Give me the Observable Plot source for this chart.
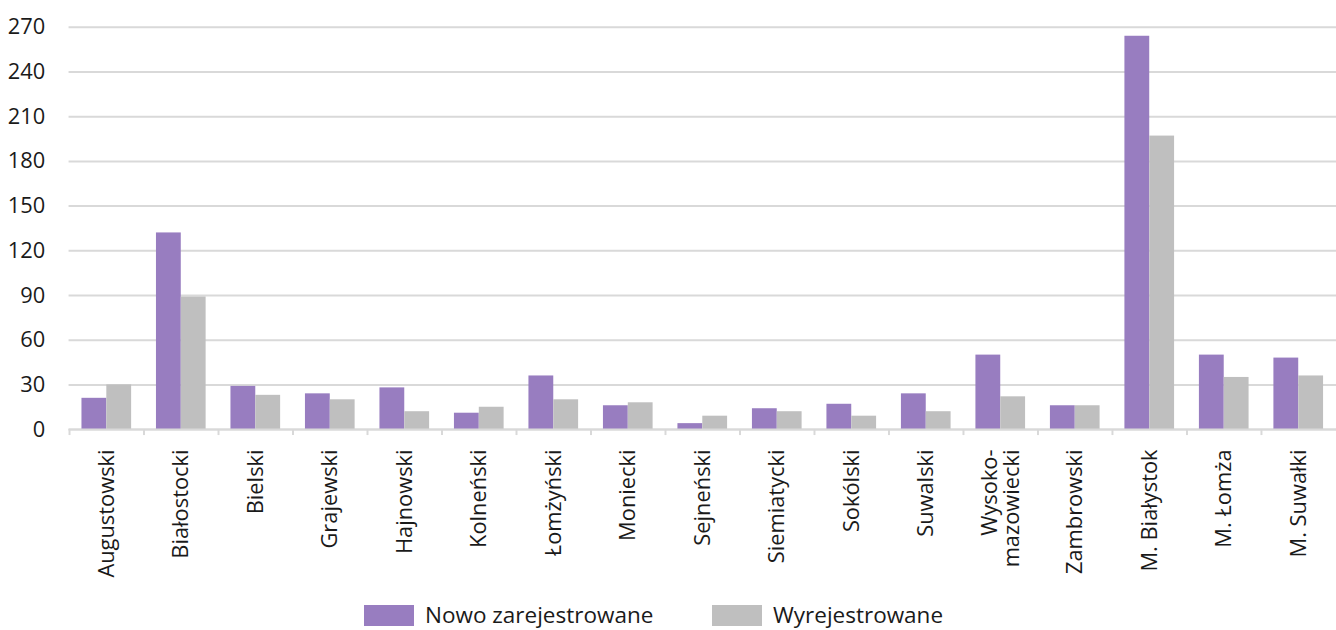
<!DOCTYPE html>
<html>
<head>
<meta charset="utf-8">
<script src="https://cdn.jsdelivr.net/npm/d3@7"></script>
<script src="https://cdn.jsdelivr.net/npm/@observablehq/plot@0.6"></script>
<style>
  html, body { margin: 0; padding: 0; background: #fff; overflow: hidden; }
  #wrap { position: relative; width: 1336px; height: 630px; overflow: hidden; font-family: "Open Sans", sans-serif; }
  #chart svg { display: block; }
  #legend { position: absolute; left: 0; top: 0; width: 1336px; font-size: 22.5px; color: #1a1a1a; }
  .item { position: absolute; top: 603px; display: flex; align-items: center; height: 24px; }
  .sw { width: 50px; height: 21px; display: inline-block; }
  .lbl { margin-left: 11px; line-height: 24px; }
</style>
</head>
<body>
<div id="wrap"><div id="chart"></div><div id="legend"></div></div>
<script>
const categories = ["Augustowski", "Białostocki", "Bielski", "Grajewski", "Hajnowski", "Kolneński", "Łomżyński", "Moniecki", "Sejneński", "Siemiatycki", "Sokólski", "Suwalski", "Wysoko-\nmazowiecki", "Zambrowski", "M. Białystok", "M. Łomża", "M. Suwałki"];
const nowoZarejestrowane = [21, 132, 29, 24, 28, 11, 36, 16, 4, 14, 17, 24, 50, 16, 264, 50, 48];
const wyrejestrowane = [30, 89, 23, 20, 12, 15, 20, 18, 9, 12, 9, 12, 22, 16, 197, 35, 36];
const seriesNames = ["Nowo zarejestrowane", "Wyrejestrowane"];
const seriesColors = ["#987DC0", "#BFBFBF"];
const yTicks = [0, 30, 60, 90, 120, 150, 180, 210, 240, 270];

const rowsA = categories.map((c, i) => ({cat: c, series: seriesNames[0], value: nowoZarejestrowane[i]}));
const rowsB = categories.map((c, i) => ({cat: c, series: seriesNames[1], value: wyrejestrowane[i]}));

const W = 1345, ML = 69, MR = 0;
const step = (W - ML - MR) / categories.length;
const bw = step * 2 / 3;

const chart = Plot.plot({
  width: W, height: 598,
  marginLeft: ML, marginRight: MR, marginTop: 27, marginBottom: 166,
  style: {fontFamily: "'Open Sans'", fontSize: "22px", color: "#1a1a1a", background: "white", overflow: "visible"},
  x: {domain: categories, paddingInner: 1/3, paddingOuter: 1/6, label: null},
  y: {domain: [0, 270], label: null},
  color: {domain: seriesNames, range: seriesColors},
  marks: [
    Plot.gridY(yTicks, {stroke: "#d9d9d9", strokeOpacity: 1, strokeWidth: 2}),
    Plot.axisY(yTicks, {tickSize: 0, tickPadding: 24, label: null, fill: "#1a1a1a", fontSize: 22}),
    Plot.barY(rowsA, {x: "cat", y: "value", fill: "series", insetRight: bw / 2}),
    Plot.barY(rowsB, {x: "cat", y: "value", fill: "series", insetLeft: bw / 2}),
    Plot.ruleY([0], {stroke: "#d9d9d9", strokeWidth: 2}),
    Plot.ruleX(categories, {x: d => d, dx: -step / 2, y1: 0, y2: -4, stroke: "#d9d9d9", strokeWidth: 2}),
    Plot.axisX({tickSize: 0, tickPadding: 20, tickRotate: -90, label: null, fill: "#1a1a1a", fontSize: 22})
  ]
});
document.getElementById("chart").appendChild(chart);

const legendLeft = [364, 712];
const legend = document.getElementById("legend");
seriesNames.forEach((name, i) => {
  const item = document.createElement("div");
  item.className = "item";
  item.style.left = legendLeft[i] + "px";
  const sw = document.createElement("span");
  sw.className = "sw";
  sw.style.background = seriesColors[i];
  const t = document.createElement("span");
  t.className = "lbl";
  t.textContent = name;
  item.appendChild(sw);
  item.appendChild(t);
  legend.appendChild(item);
});
</script>
</body>
</html>
